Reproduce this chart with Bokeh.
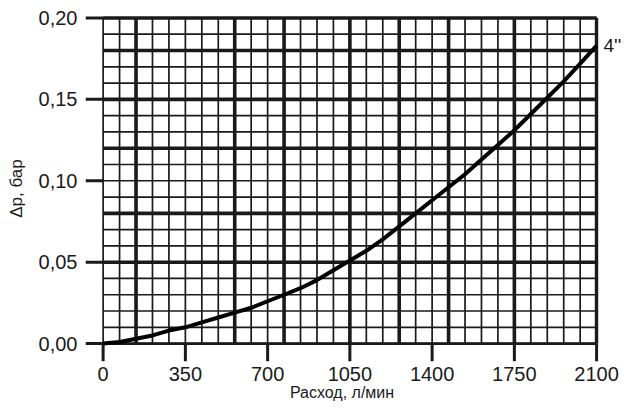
from bokeh.plotting import figure
from bokeh.models import FixedTicker, LinearAxis
from bokeh.embed import file_html
from bokeh.resources import INLINE

# data
flow = [0, 70, 140, 210, 280, 350, 420, 490, 560, 630, 700, 770, 840, 910, 980, 1050,
        1120, 1190, 1260, 1330, 1400, 1470, 1540, 1610, 1680, 1750, 1820, 1890, 1960, 2030, 2100]
dp = [0.0, 0.001, 0.003, 0.005, 0.008, 0.010, 0.013, 0.016, 0.019, 0.022, 0.026, 0.030,
      0.034, 0.039, 0.045, 0.051, 0.057, 0.064, 0.072, 0.080, 0.088, 0.096, 0.104, 0.113,
      0.122, 0.131, 0.141, 0.151, 0.161, 0.172, 0.183]
x_ticks = [0, 350, 700, 1050, 1400, 1750, 2100]
y_ticks = [0.0, 0.05, 0.10, 0.15, 0.20]
y_tick_labels = {0.0: "0,00", 0.05: "0,05", 0.10: "0,10", 0.15: "0,15", 0.20: "0,20"}
x_minor = [70 * i for i in range(31)]
y_minor = [round(0.01 * i, 2) for i in range(21)]
x_thick = [140, 560, 770, 1050, 1260, 1470, 1750, 2100]
y_thick = [0.05, 0.08, 0.12, 0.15, 0.18, 0.20]
series_name = "4''"
series_label_at = 0.183

X0, X1 = 0, 2100
Y0, Y1 = 0.0, 0.20
TICK_X = 75      # outer tick length in x units
TICK_Y = 0.011   # outer tick length in y units

FONT = "Liberation Sans"
INK = "#1a1a1a"

p = figure(width=624, height=410, x_range=(X0 - TICK_X, X1 + 8), y_range=(Y0 - TICK_Y, Y1 + 0.0015),
           output_backend="svg", toolbar_location=None,
           min_border_left=85, min_border_right=26, min_border_top=15, min_border_bottom=49)
p.xgrid.visible = False
p.ygrid.visible = False
p.outline_line_color = None
p.background_fill_color = "white"
p.border_fill_color = "white"

# thin graph-paper grid
p.segment(x0=x_minor, y0=[Y0] * len(x_minor), x1=x_minor, y1=[Y1] * len(x_minor),
          line_color=INK, line_width=1.7)
p.segment(x0=[X0] * len(y_minor), y0=y_minor, x1=[X1] * len(y_minor), y1=y_minor,
          line_color=INK, line_width=1.7)
# thick lines
p.segment(x0=x_thick, y0=[Y0] * len(x_thick), x1=x_thick, y1=[Y1] * len(x_thick),
          line_color=INK, line_width=3.6)
p.segment(x0=[X0] * len(y_thick), y0=y_thick, x1=[X1] * len(y_thick), y1=y_thick,
          line_color=INK, line_width=3.6)
# bottom edge
p.segment(x0=[X0], y0=[Y0], x1=[X1], y1=[Y0], line_color=INK, line_width=2.6)
# outer ticks
p.segment(x0=[X0 - TICK_X] * len(y_ticks), y0=y_ticks, x1=[X0] * len(y_ticks), y1=y_ticks,
          line_color=INK, line_width=3)
p.segment(x0=x_ticks, y0=[Y0 - TICK_Y] * len(x_ticks), x1=x_ticks, y1=[Y0] * len(x_ticks),
          line_color=INK, line_width=3)

p.line(flow, dp, line_color="black", line_width=4)

for ax in (p.xaxis[0], p.yaxis[0]):
    ax.axis_line_color = None
    ax.minor_tick_line_color = None
    ax.major_tick_line_color = None
    ax.major_tick_in = 0
    ax.major_tick_out = 0
    ax.major_label_text_font = FONT
    ax.major_label_text_font_size = "20px"
    ax.major_label_text_color = INK
    ax.axis_label_text_font = FONT
    ax.axis_label_text_font_style = "normal"
    ax.axis_label_text_color = INK

p.xaxis.ticker = FixedTicker(ticks=x_ticks)
p.yaxis.ticker = FixedTicker(ticks=y_ticks)
p.yaxis.major_label_overrides = y_tick_labels
p.xaxis.major_label_standoff = 5
p.yaxis.major_label_standoff = 8
p.xaxis.axis_label = "Расход, л/мин"
p.yaxis.axis_label = "Δp, бар"
p.xaxis.axis_label_standoff = 0
p.yaxis.axis_label_standoff = 10
p.xaxis.axis_label_text_font_size = "16px"
p.yaxis.axis_label_text_font_size = "17px"

# series name at the right end of the curve
right = LinearAxis(ticker=FixedTicker(ticks=[series_label_at]),
                   major_label_overrides={series_label_at: series_name},
                   axis_line_color=None, major_tick_line_color=None, minor_tick_line_color=None,
                   major_tick_in=0, major_tick_out=0,
                   major_label_standoff=5, major_label_text_font=FONT,
                   major_label_text_font_size="19px", major_label_text_color=INK)
p.add_layout(right, "right")

open("out.html", "w").write(file_html(p, INLINE))
